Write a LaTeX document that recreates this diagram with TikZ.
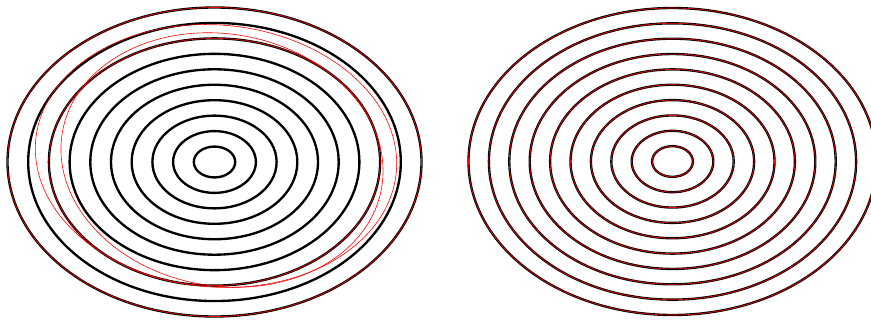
\documentclass[tikz,border=0pt]{standalone}
\usepackage{tikz}
\begin{document}
\begin{tikzpicture}[x=0.03cm,y=-0.03cm]
\tikzstyle{ring} = [draw=black, line width=2pt]
\tikzstyle{trace} = [draw=red, line width=0.5pt]

\useasboundingbox (0,0) rectangle (871,320);
\clip (0,0) rectangle (871,320);

\coordinate (lc) at (214.5,162);
\coordinate (rc) at (672.5,161.5);
\coordinate (xc) at (222,160);
\coordinate (yc) at (216,156);

\foreach \k in {1,...,10}
  \draw [ring] (lc) ellipse [x radius=20.7*\k, y radius=15.45*\k];
\foreach \k in {8,10}
  \draw [trace] (lc) ellipse [x radius=20.7*\k, y radius=15.45*\k];
\draw [trace] (xc) ellipse [x radius=162, y radius=126, rotate=-10];
\draw [trace] (yc) ellipse [x radius=181, y radius=131, rotate=-5];

\foreach \k in {1,...,10}
  \draw [ring] (rc) ellipse [x radius=20.4*\k, y radius=15.35*\k];
\foreach \k in {1,...,10}
  \draw [trace] (rc) ellipse [x radius=20.4*\k, y radius=15.35*\k];
\end{tikzpicture}
\end{document}
